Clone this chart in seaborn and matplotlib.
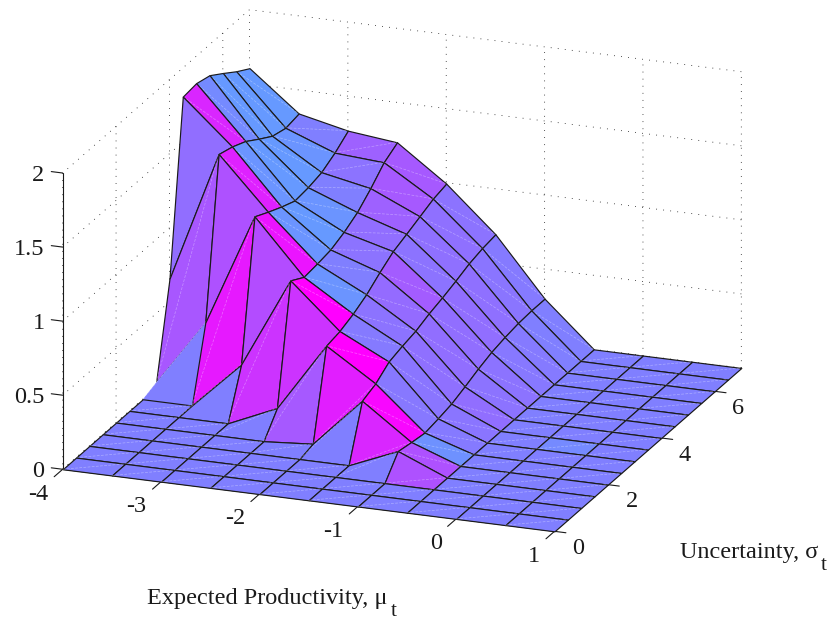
import numpy as np
import seaborn as sns
import matplotlib
matplotlib.use('Agg')
import matplotlib.pyplot as plt
from mpl_toolkits.mplot3d.art3d import Poly3DCollection, Line3DCollection

# grid of the surface
mu_values = [-4, -3.5, -3, -2.5, -2, -1.5, -1, -0.5, 0, 0.5, 1]
sigma_values = [0, 0.5, 1, 1.5, 2, 2.5, 3, 3.5, 4, 4.5, 5, 5.5, 6, 6.5, 7]

# height along sigma for each mu
z_m40 = [0, 0, 0, 0, 0, 0, 0, 0.035, 0.655, 1.807, 1.819, 1.794, 1.73, 1.663, 1.605]
z_m35 = [0, 0, 0, 0, 0, 0, 0, 0.48, 1.54, 1.512, 1.47, 1.407, 1.348, 1.323, 1.341]
z_m30 = [0, 0, 0, 0, 0, 0, 0.318, 1.24, 1.192, 1.148, 1.11, 1.121, 1.144, 1.197, 1.267]
z_m25 = [0, 0, 0, 0, 0, 0.145, 0.928, 0.873, 0.884, 0.90, 0.94, 0.995, 1.078, 1.174, 1.23]
z_m20 = [0, 0, 0, 0, 0.025, 0.608, 0.628, 0.666, 0.718, 0.789, 0.852, 0.89, 0.93, 0.97, 0.993]
z_m15 = [0, 0, 0, 0, 0.357, 0.395, 0.464, 0.492, 0.514, 0.552, 0.581, 0.615, 0.653, 0.678, 0.693]
z_m10 = [0, 0, 0, 0.138, 0.12, 0.105, 0.122, 0.143, 0.18, 0.221, 0.255, 0.277, 0.293, 0.30, 0.30]
z_m05 = [0, 0, 0, 0, 0, 0, 0, 0, 0, 0, 0, 0, 0, 0, 0]
z_p00 = [0, 0, 0, 0, 0, 0, 0, 0, 0, 0, 0, 0, 0, 0, 0]
z_p05 = [0, 0, 0, 0, 0, 0, 0, 0, 0, 0, 0, 0, 0, 0, 0]
z_p10 = [0, 0, 0, 0, 0, 0, 0, 0, 0, 0, 0, 0, 0, 0, 0]

# colour value of each face along sigma, for each mu strip
c_m40 = [.5, .5, .5, .5, .5, .5, .5, .66, .57, .85, .46, .4, .4, .4]
c_m35 = [.5, .5, .5, .5, .5, .5, .9, .68, .87, .42, .4, .4, .42, .5]
c_m30 = [.5, .5, .5, .5, .5, .8, .7, .92, .42, .4, .42, .5, .55, .62]
c_m25 = [.5, .5, .5, .5, .65, .8, 1.0, .42, .5, .55, .57, .62, .65, .65]
c_m20 = [.5, .5, .5, .5, .88, 1.0, .52, .55, .58, .64, .55, .56, .56, .55]
c_m15 = [.5, .5, .5, .85, .97, .53, .54, .56, .57, .57, .57, .56, .54, .52]
c_m10 = [.5, .5, .68, .68, .43, .52, .54, .57, .55, .55, .53, .52, .5, .5]
c_m05 = [.5, .5, .5, .5, .5, .5, .5, .5, .5, .5, .5, .5, .5, .5]
c_p00 = [.5, .5, .5, .5, .5, .5, .46, .5, .5, .5, .5, .5, .5, .5]
c_p05 = [.5, .5, .5, .5, .5, .5, .5, .5, .5, .5, .5, .5, .5, .5]

mu_ticks = [-4, -3, -2, -1, 0, 1]
mu_labels = ['-4', '-3', '-2', '-1', '0', '1']
sigma_ticks = [0, 2, 4, 6]
sigma_labels = ['0', '2', '4', '6']
z_ticks = [0, 0.5, 1, 1.5, 2]
z_labels = ['0', '0.5', '1', '1.5', '2']

sns.set_theme(style='ticks')
plt.rcParams['font.family'] = ['Liberation Serif', 'DejaVu Serif']

Z = np.array([z_m40, z_m35, z_m30, z_m25, z_m20, z_m15, z_m10, z_m05, z_p00, z_p05, z_p10])
C = np.array([c_m40, c_m35, c_m30, c_m25, c_m20, c_m15, c_m10, c_m05, c_p00, c_p05])
cool = sns.color_palette('cool', as_cmap=True)

fig = plt.figure(figsize=(8.31, 6.2), dpi=100)
side = 800
ax = fig.add_axes([-8.8 / 831, -61.3 / 620, side / 831, side / 620], projection='3d',
                  proj_type='ortho', computed_zorder=False)
ax.view_init(elev=19.4, azim=-69.2)
ax.set_box_aspect((1, 1, 0.597), zoom=0.98)

# far faces first, the surface is a height field so this hides everything properly
order = 10
for i in range(len(mu_values) - 1):
    for j in range(len(sigma_values) - 2, -1, -1):
        x0, x1 = mu_values[i], mu_values[i + 1]
        y0, y1 = sigma_values[j], sigma_values[j + 1]
        corners = [(x0, y0, Z[i, j]), (x1, y0, Z[i + 1, j]), (x1, y1, Z[i + 1, j + 1]), (x0, y1, Z[i, j + 1])]
        face = cool(C[i, j])
        # the strip below the first jump has no mesh lines of its own
        edge = face if (i == 0 and j == 6) else 'k'
        poly = Poly3DCollection([corners], facecolors=[face], edgecolors=[edge], linewidths=0.85)
        poly.set_zorder(order)
        ax.add_collection3d(poly)
        seam = Line3DCollection([[corners[0], corners[2]]], colors='w', linewidths=0.5, alpha=0.35,
                                linestyles=(0, (4, 2)))
        seam.set_zorder(order + 1)
        ax.add_collection3d(seam)
        order += 2

ax.set_xlim(-4, 1, view_margin=0)
ax.set_ylim(0, 7, view_margin=0)
ax.set_zlim(0, 2, view_margin=0)
ax.set_xticks(mu_ticks, labels=mu_labels)
ax.set_yticks(sigma_ticks, labels=sigma_labels)
ax.set_zticks(z_ticks, labels=z_labels)

# in these axes the "inward" side of a tick is the one that points away from the box,
# except on the z axis once its ticks are turned along x
for axis, inward, outward in ((ax.xaxis, 0.57, 0), (ax.yaxis, 0.29, 0), (ax.zaxis, 0, 0.29)):
    axis.set_pane_color((1, 1, 1, 0))
    axis.pane.set_edgecolor((1, 1, 1, 0))
    axis._axinfo['grid'].update(color='k', linewidth=0.6, linestyle=(0, (1, 7.5)))
    axis._axinfo['tick'].update(inward_factor=inward, outward_factor=outward,
                                linewidth={True: 0.8, False: 0.8}, color='k')
    axis._axinfo['axisline'].update(color='k', linewidth=0.8)
    axis.line.set_color('k')
    axis.line.set_linewidth(0.8)

ax.zaxis.set_ticks_position('lower')
ax.zaxis._get_tickdir = lambda pos: 0
ax.tick_params(axis='x', pad=15, labelsize=17.5, colors='k')
ax.tick_params(axis='y', pad=6.5, labelsize=17.5, colors='k')
ax.tick_params(axis='z', pad=0, labelsize=17.5, colors='k')
for t in ax.xaxis.get_major_ticks():
    t.label1.set_ha('right')
    t.label1.set_va('bottom')
for t in ax.yaxis.get_major_ticks():
    t.label1.set_ha('center')
    t.label1.set_va('center')
for t in ax.zaxis.get_major_ticks():
    t.label1.set_ha('right')
    t.label1.set_va('center')

fig.text(147 / 831, 1 - 604 / 620, 'Expected Productivity, \u03bc', fontsize=17.5, color='k', va='baseline')
fig.text(391 / 831, 1 - 616 / 620, 't', fontsize=15, color='k', va='baseline')
fig.text(680 / 831, 1 - 558 / 620, 'Uncertainty, \u03c3', fontsize=17.5, color='k', va='baseline')
fig.text(821 / 831, 1 - 570 / 620, 't', fontsize=15, color='k', va='baseline')

fig.savefig('out.png', dpi=100)
